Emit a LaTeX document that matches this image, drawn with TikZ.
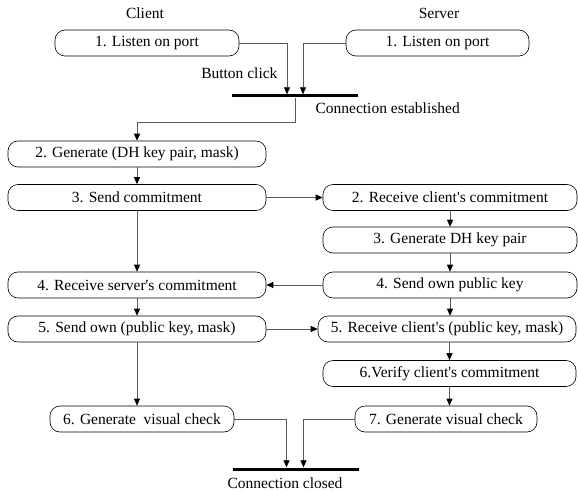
\documentclass[tikz,border=0pt]{standalone}
\usepackage{fontspec}
\setmainfont{Liberation Serif}
\usetikzlibrary{arrows.meta}

\begin{document}
\begin{tikzpicture}[x=1pt, y=-1pt,
    >={Triangle[length=7pt, width=6pt, color=black]},
    every node/.style={font=\fontsize{15.5}{18}\selectfont},
    stage/.style={draw, rounded corners=10pt, minimum height=26pt, inner sep=0pt, line width=0.6pt},
    bar/.style={fill=black, minimum width=126pt, minimum height=3pt, inner sep=0pt},
    flow/.style={->, draw=black!65, line width=0.8pt}]
    \useasboundingbox (0,0) rectangle (578,492);

    \node (client) at (145,13) {Client};
    \node (server) at (439,13) {Server};
    \node[stage, minimum width=184] (c1) at (147,43) {1. Listen on port};
    \node[stage, minimum width=183] (s1) at (437.5,43) {1. Listen on port};
    \node[bar] (open) at (295,96) {};
    \node[anchor=east] (click) at (281,73) {Button click};
    \node[anchor=west] (est) at (312,108) {Connection established};

    \node[stage, minimum width=258] (c2) at (137,154) {2. Generate (DH key pair, mask)};
    \node[stage, minimum width=258] (c3) at (137,197.5) {3. Send commitment};
    \node[stage, minimum width=254] (s2) at (450,197.5) {2. Receive client\textquotesingle s commitment};
    \node[stage, minimum width=254] (s3) at (450,240) {3. Generate DH key pair};
    \node[stage, minimum width=254] (s4) at (450,285) {4. Send own public key};
    \node[stage, minimum width=258] (c4) at (137,285) {4. Receive server\textquotesingle s commitment};
    \node[stage, minimum width=258] (c5) at (137,329) {5. Send own (public key, mask)};
    \node[stage, minimum width=258] (s5) at (447,329) {5. Receive client\textquotesingle s (public key, mask)};
    \node[stage, minimum width=253] (s6) at (449.5,373.5) {6.Verify client\textquotesingle s commitment};
    \node[stage, minimum width=182] (s7) at (446,419) {7. Generate visual check};
    \node[stage, minimum width=184] (c6) at (142,419) {6. Generate \ visual check};
    \node[bar] (close) at (295.5,469) {};
    \node (closed) at (285,483) {Connection closed};

    \draw[flow] (c1.east) -| ([xshift=-8pt]open.north);
    \draw[flow] (s1.west) -| ([xshift=8pt]open.north);
    \draw[flow] (open.south) -- ++(0,25) -| (c2.north);
    \draw[flow] (c2) -- (c3);
    \draw[flow] (c3) -- (s2);
    \draw[flow] (c3) -- (c4);
    \draw[flow] (s2) -- (s3);
    \draw[flow] (s3) -- (s4);
    \draw[flow] (s4) -- (c4);
    \draw[flow] (c4) -- (c5);
    \draw[flow] (c5) -- (s5);
    \draw[flow] (s4.south) -- (s4.south |- s5.north);
    \draw[flow] (s5.south -| s6) -- (s6.north);
    \draw[flow] (s6.south) -- (s6.south |- s7.north);
    \draw[flow] (c5.south) -- (c5.south |- c6.north);
    \draw[flow] (c6.east) -| ([xshift=-9pt]close.north);
    \draw[flow] (s7.west) -| ([xshift=8pt]close.north);
\end{tikzpicture}
\end{document}
